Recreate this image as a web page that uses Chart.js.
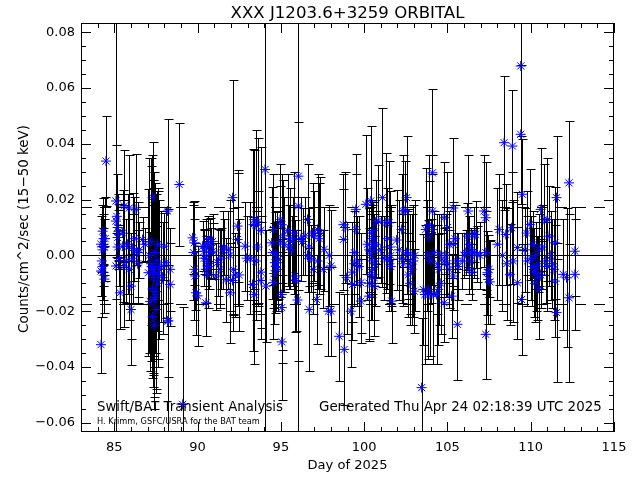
<!DOCTYPE html>
<html>
<head>
<meta charset="utf-8">
<script src="https://cdn.jsdelivr.net/npm/chart.js@4/dist/chart.umd.min.js"></script>
<style>
html,body{margin:0;padding:0;background:#fff}
canvas{display:block}
</style>
</head>
<body>
<canvas id="lc" width="640" height="480"></canvas>
<script>
// ==== Swift/BAT orbital light curve, XXX J1203.6+3259 ====

const FONT = '"DejaVu Sans", sans-serif';

// day of 2025 (one line per cluster of orbits)
const days = [
  84.5, 84.2, 84.3, 84.2, 84.3, 84.35, 84.2, 84.3, 84.3, 84.4, 84.45, 84.25, 84.4,
  85.1, 85.1, 85.2, 85.25, 85.2, 85.2, 85.1, 85.35, 85.15, 85.3,
  85.6, 85.9, 86.3, 85.5, 85.8, 86.1, 85.6, 85.7, 85.9, 86.0, 86.0, 86.4, 86.1, 86.2, 85.5,
  86.7, 86.5, 86.4, 86.85,
  87.3, 87.1, 87.05, 87.2, 87.25, 87.4, 87.3, 87.35, 87.3, 87.4, 87.5, 87.15, 87.65, 87.55, 87.8, 87.6, 87.9, 87.5, 87.45, 87.2, 87.45, 87.3, 87.6, 87.4, 87.7,
  88.0, 88.2, 88.25, 88.35, 88.35, 88.1, 88.2,
  88.9, 89.1,
  89.7, 89.8, 89.8, 89.85, 89.9, 90.0, 89.75,
  90.3, 90.4, 90.5, 90.6, 90.65, 90.75, 90.9, 90.5, 90.6, 90.5, 90.8, 90.9, 90.5, 90.6, 90.4, 90.7,
  91.2, 91.4, 91.5, 91.35, 91.6, 91.1, 91.7,
  92.1, 92.4, 92.4, 91.95, 92.15, 92.25, 92.5, 91.95, 92.1, 91.85,
  92.85, 92.95, 93.15, 93.4, 93.5, 93.6, 93.35, 93.6, 93.8, 93.5, 93.3, 93.4, 93.8, 93.8,
  94.05,
  94.1, 94.55, 94.45, 94.5, 94.65, 94.7, 94.8, 94.6, 94.85, 94.75, 94.55, 94.95, 95.05, 95.15, 94.95, 95.2, 95.05, 95.05, 95.05,
  95.4, 95.55, 95.7, 95.8, 95.5, 95.85, 95.9, 96.0, 96.05, 96.05, 95.65,
  96.2, 96.3, 96.45, 96.6, 96.7, 96.8, 96.6, 96.9, 97.0, 97.2, 97.3, 97.35, 97.2, 96.7, 97.15, 96.95,
  97.6, 97.55, 97.9, 98.0, 97.85, 98.0,
  98.5, 98.8, 98.75, 98.85, 98.75, 98.95, 99.3, 99.3, 99.2, 99.4,
  99.5, 99.5, 99.4, 99.6, 99.7, 99.8, 99.8, 100.1, 100.4, 100.2, 100.3, 100.4, 100.5, 100.6, 100.7, 100.5, 100.65, 100.5, 100.4, 100.6, 100.3, 100.6, 100.3, 100.5, 100.45, 100.55, 100.7,
  100.85, 101.1, 101.3, 101.5, 101.4, 101.55, 101.6, 101.5, 101.6, 101.65, 101.0, 101.2,
  101.95, 102.1, 102.25, 102.35, 102.45, 102.55, 102.25, 102.35, 102.55, 102.65, 102.75, 102.85, 102.65, 102.75, 103.0, 103.05, 102.95,
  103.45, 103.55, 103.65, 103.85, 103.95, 104.15, 104.35, 104.45, 103.7, 103.9, 104.1, 103.9, 104.1, 104.1, 103.8, 104.0, 104.2, 104.4, 104.5, 104.6, 104.6,
  104.8, 105.0, 105.1, 104.9, 104.8, 105.0, 105.1, 104.8, 105.25, 105.35, 105.35, 105.45, 105.35, 105.55, 105.65, 105.6,
  105.9, 106.0, 106.1, 106.25, 106.2, 106.3, 106.4, 106.5, 106.6, 106.7, 106.6, 106.4, 106.3, 106.5, 106.8, 106.95,
  107.2, 107.3, 107.3, 107.4, 107.45, 107.55, 107.3, 107.5, 108.0, 108.1,
  108.4, 108.3, 108.5, 108.55, 108.75, 108.9, 108.85, 108.95, 109.2, 109.2, 109.4, 109.4, 109.5, 109.45, 109.65, 109.75, 109.8,
  109.95, 110.0, 110.1, 110.2, 110.3, 110.4, 110.3, 110.5, 110.15, 110.6, 110.7, 110.8, 110.9, 111.0, 111.0, 111.1, 111.2, 111.3, 111.4, 111.45, 111.45, 111.55, 111.55, 110.45, 110.6, 110.25, 110.5,
  111.95, 112.15, 112.3, 112.3, 112.65, 112.65
];

// rate, counts/cm^2/sec (15-50 keV)
const rates = [
  0.0338, -0.032, 0.0087, 0.004, 0.002, 0.006, -0.0056, -0.006, -0.004, -0.0085, 0.006, -0.002, 0.003,
  0.0123, 0.0195, 0.010, 0.0085, 0.0064, 0.003, -0.0038, -0.0134, 0.014, -0.001,
  0.0177, 0.017, 0.0165, 0.0033, 0.004, 0.0025, -0.0038, -0.002, -0.005, -0.011, -0.0194, 0.001, -0.001, 0.006, 0.008,
  0.0057, 0.002, -0.003, 0.004,
  0.0208, 0.000, -0.0062, -0.003, -0.004, -0.005, -0.006, -0.008, -0.012, -0.0158, -0.0194, -0.0165, -0.007, -0.002, -0.004, -0.010, -0.008, -0.013, -0.015, 0.005, 0.001, -0.022, 0.004, -0.025, -0.005,
  0.0033, 0.0159, -0.0235, -0.005, -0.0104, -0.0025, -0.0235,
  0.0254, -0.0534,
  0.0063, 0.0045, -0.005, -0.0074, -0.0134, -0.0145, 0.001,
  0.0033, -0.001, 0.003, 0.004, 0.006, 0.0035, 0.005, -0.005, -0.003, -0.001, 0.001, 0.0015, -0.017, -0.007, 0.0015, -0.004,
  -0.0025, -0.001, 0.002, -0.005, 0.003, -0.0074, -0.0087,
  0.0207, 0.0105, 0.0057, 0.000, -0.005, -0.007, -0.007, -0.0134, -0.009, 0.002,
  0.0033, -0.001, -0.001, 0.0129, 0.011, 0.012, 0.011, 0.003, 0.009, -0.002, -0.0104, -0.014, -0.006, -0.009,
  0.0308,
  -0.011, 0.0093, 0.0045, 0.001, -0.0026, -0.004, -0.005, -0.0065, -0.0015, 0.000, -0.0098, 0.0129, 0.011, 0.007, 0.005, 0.004, -0.014, -0.0187, -0.031,
  0.009, 0.006, 0.005, 0.008, 0.003, -0.0074, -0.009, -0.016, 0.0284, 0.0177, 0.002,
  0.006, 0.005, 0.007, 0.0129, 0.003, -0.001, 0.000, 0.008, 0.007, 0.0093, 0.006, 0.008, -0.002, -0.0194, -0.0158, -0.005,
  0.0022, -0.005, 0.000, -0.0038, -0.020, -0.020,
  -0.029, -0.0337, 0.011, 0.010, 0.0057, -0.008, -0.006, -0.0104, -0.020, -0.003,
  0.0165, 0.0093, 0.001, -0.002, -0.004, -0.0098, -0.0164, 0.0183, 0.0195, 0.004, 0.002, 0.000, 0.004, 0.002, 0.004, -0.002, -0.003, -0.005, -0.007, -0.008, -0.010, -0.011, -0.0146, 0.006, 0.008, 0.009, 0.012,
  0.0123, 0.0207, 0.0117, 0.0117, 0.006, 0.003, 0.000, -0.002, -0.004, -0.0164, 0.002, -0.001,
  0.0055, 0.002, 0.0093, 0.0159, 0.016, 0.0207, -0.001, -0.003, 0.001, 0.0005, -0.003, -0.005, -0.007, -0.010, -0.0128, 0.000, -0.002,
  -0.0474, -0.0122, -0.014, -0.0122, -0.014, -0.014, -0.014, -0.0122, 0.0093, 0.011, 0.0093, 0.0065, 0.0159, 0.0296, 0.000, -0.002, 0.001, -0.003, -0.005, 0.000, -0.010,
  0.0135, 0.010, 0.004, 0.000, -0.002, -0.003, -0.005, -0.017, -0.0146, 0.017, 0.004, 0.006, -0.0074, -0.002, -0.004, -0.0247,
  -0.002, 0.000, 0.001, 0.0159, 0.0069, 0.004, 0.002, 0.001, 0.0075, 0.0075, 0.001, -0.002, -0.005, -0.006, 0.0005, 0.000,
  0.0159, 0.0135, 0.001, -0.0062, -0.0086, -0.0095, -0.0283, -0.005, 0.004, 0.0093,
  0.0404, 0.000, 0.0075, -0.003, -0.0068, 0.0392, 0.0099, -0.002, 0.0028, -0.0098, 0.0679, 0.0434, 0.0219, -0.0158, 0.002, 0.008, -0.002,
  0.0111, -0.001, -0.004, -0.006, -0.005, -0.008, 0.000, 0.002, 0.004, 0.0165, 0.003, 0.0129, -0.002, -0.004, 0.0129, 0.0069, 0.000, -0.003, -0.005, 0.0045, -0.0092, 0.0207, -0.0205, -0.003, -0.007, -0.010, -0.012,
  -0.0068, -0.008, 0.026, -0.0152, 0.0015, -0.0068
];

// 1-sigma errors
const errs = [
  0.016, 0.010, 0.012, 0.010, 0.008, 0.009, 0.009, 0.010, 0.007, 0.012, 0.015, 0.020, 0.010,
  0.15, 0.02, 0.012, 0.01, 0.01, 0.008, 0.012, 0.013, 0.015, 0.010,
  0.02, 0.019, 0.02, 0.02, 0.018, 0.02, 0.022, 0.015, 0.018, 0.019, 0.02, 0.018, 0.016, 0.015, 0.012,
  0.008, 0.01, 0.012, 0.006,
  0.02, 0.035, 0.03, 0.035, 0.04, 0.035, 0.03, 0.035, 0.03, 0.035, 0.03, 0.025, 0.03, 0.025, 0.02, 0.03, 0.02, 0.035, 0.02, 0.03, 0.025, 0.025, 0.02, 0.03, 0.025,
  0.012, 0.033, 0.02, 0.015, 0.015, 0.02, 0.04,
  0.022, 0.035,
  0.013, 0.015, 0.018, 0.012, 0.015, 0.018, 0.017,
  0.009, 0.01, 0.01, 0.009, 0.008, 0.01, 0.01, 0.012, 0.009, 0.01, 0.009, 0.01, 0.012, 0.012, 0.008, 0.008,
  0.012, 0.011, 0.014, 0.014, 0.01, 0.012, 0.015,
  0.042, 0.02, 0.024, 0.02, 0.022, 0.015, 0.02, 0.018, 0.012, 0.014,
  0.016, 0.015, 0.02, 0.025, 0.034, 0.03, 0.027, 0.02, 0.03, 0.018, 0.024, 0.025, 0.02, 0.021,
  0.12,
  0.02, 0.02, 0.02, 0.02, 0.018, 0.016, 0.015, 0.018, 0.014, 0.016, 0.02, 0.02, 0.018, 0.02, 0.02, 0.017, 0.02, 0.02, 0.021,
  0.02, 0.018, 0.016, 0.022, 0.015, 0.02, 0.018, 0.022, 0.15, 0.03, 0.012,
  0.015, 0.012, 0.014, 0.02, 0.014, 0.012, 0.013, 0.018, 0.016, 0.02, 0.02, 0.02, 0.01, 0.022, 0.016, 0.016,
  0.015, 0.014, 0.018, 0.02, 0.016, 0.016,
  0.016, 0.02, 0.018, 0.02, 0.018, 0.02, 0.018, 0.02, 0.02, 0.015,
  0.02, 0.02, 0.015, 0.016, 0.018, 0.018, 0.015, 0.025, 0.027, 0.02, 0.015, 0.015, 0.014, 0.013, 0.012, 0.012, 0.015, 0.018, 0.016, 0.015, 0.02, 0.018, 0.016, 0.01, 0.012, 0.01, 0.015,
  0.02, 0.032, 0.025, 0.022, 0.018, 0.02, 0.018, 0.018, 0.016, 0.015, 0.012, 0.015,
  0.018, 0.018, 0.02, 0.02, 0.018, 0.022, 0.016, 0.015, 0.015, 0.016, 0.018, 0.02, 0.015, 0.015, 0.015, 0.02, 0.02,
  0.025, 0.02, 0.025, 0.025, 0.022, 0.025, 0.025, 0.02, 0.022, 0.025, 0.02, 0.02, 0.02, 0.03, 0.02, 0.015, 0.015, 0.018, 0.02, 0.015, 0.018,
  0.02, 0.02, 0.012, 0.015, 0.012, 0.012, 0.014, 0.014, 0.015, 0.025, 0.015, 0.012, 0.012, 0.01, 0.012, 0.02,
  0.01, 0.008, 0.008, 0.02, 0.012, 0.01, 0.008, 0.008, 0.01, 0.012, 0.009, 0.01, 0.009, 0.01, 0.01, 0.012,
  0.02, 0.02, 0.015, 0.015, 0.016, 0.015, 0.016, 0.01, 0.02, 0.02,
  0.024, 0.02, 0.018, 0.02, 0.018, 0.02, 0.02, 0.022, 0.02, 0.02, 0.025, 0.025, 0.02, 0.02, 0.015, 0.015, 0.016,
  0.02, 0.015, 0.014, 0.016, 0.015, 0.015, 0.012, 0.013, 0.012, 0.022, 0.015, 0.02, 0.015, 0.016, 0.022, 0.018, 0.016, 0.016, 0.018, 0.02, 0.02, 0.022, 0.025, 0.01, 0.012, 0.014, 0.018,
  0.02, 0.025, 0.022, 0.03, 0.016, 0.02
];

// axes
const xMin = 83, xMax = 115, xStep = 5, xMinor = 1;
const yMin = -0.0633, yMax = 0.0833, yStep = 0.02, yMinor = 0.005;
const threshold = 0.0175;   // dashed lines at +/- this

const pts = days.map((d,i)=>({x:d, y:rates[i]}));

function fitText(ctx, txt, x, y, w, align){
  ctx.font = '14px ' + FONT;
  const m = ctx.measureText(txt).width;
  ctx.font = (14*w/m).toFixed(2) + 'px ' + FONT;
  ctx.textAlign = align;
  ctx.fillText(txt, x, y);
}

// error bars, zero/threshold lines, inward ticks and labels
const idlPlugin = {
  id:'idl',
  beforeDatasetsDraw(chart){
    const {ctx, chartArea:a, scales:{x, y}} = chart;
    ctx.save();
    ctx.beginPath(); ctx.rect(a.left, a.top, a.right-a.left, a.bottom-a.top); ctx.clip();
    ctx.strokeStyle = '#000'; ctx.lineWidth = 1;
    // zero line
    const y0 = Math.round(y.getPixelForValue(0)) + 0.5;
    ctx.beginPath(); ctx.moveTo(a.left, y0); ctx.lineTo(a.right, y0); ctx.stroke();
    // threshold lines
    ctx.setLineDash([11, 8]);
    [threshold, -threshold].forEach(v=>{
      const yy = Math.round(y.getPixelForValue(v)) + 0.5;
      ctx.beginPath(); ctx.moveTo(a.left, yy); ctx.lineTo(a.right, yy); ctx.stroke();
    });
    ctx.setLineDash([]);
    // error bars
    ctx.beginPath();
    days.forEach((d,i)=>{
      const px = Math.round(x.getPixelForValue(d)) + 0.5;
      const top = Math.round(y.getPixelForValue(rates[i]+errs[i])) + 0.5;
      const bot = Math.round(y.getPixelForValue(rates[i]-errs[i])) + 0.5;
      ctx.moveTo(px, top); ctx.lineTo(px, bot);
      ctx.moveTo(px-4, top); ctx.lineTo(px+5, top);
      ctx.moveTo(px-4, bot); ctx.lineTo(px+5, bot);
    });
    ctx.stroke();
    ctx.restore();
  },
  afterDraw(chart){
    const {ctx, chartArea:a, scales:{x, y}} = chart;
    ctx.save();
    ctx.strokeStyle = '#000'; ctx.lineWidth = 1;
    ctx.strokeRect(a.left+0.5, a.top+0.5, a.right-a.left-1, a.bottom-a.top-1);
    ctx.beginPath();
    for(let v = Math.ceil(xMin/xMinor)*xMinor; v <= xMax; v += xMinor){
      const len = (v % xStep === 0) ? 10 : 5;
      const px = Math.round(x.getPixelForValue(v)) + 0.5;
      ctx.moveTo(px, a.bottom); ctx.lineTo(px, a.bottom-len);
      ctx.moveTo(px, a.top); ctx.lineTo(px, a.top+len);
    }
    for(let k = Math.ceil(yMin/yMinor); k*yMinor <= yMax; k++){
      const v = k*yMinor;
      const len = (k % 4 === 0) ? 10 : 5;
      const py = Math.round(y.getPixelForValue(v)) + 0.5;
      ctx.moveTo(a.left, py); ctx.lineTo(a.left+len, py);
      ctx.moveTo(a.right, py); ctx.lineTo(a.right-len, py);
    }
    ctx.stroke();

    ctx.fillStyle = '#000';
    ctx.textBaseline = 'alphabetic';
    fitText(ctx, 'XXX J1203.6+3259 ORBITAL', (a.left+a.right)/2, 18, 234, 'center');
    fitText(ctx, 'Swift/BAT Transient Analysis', 97, 411, 186, 'left');
    fitText(ctx, 'Generated Thu Apr 24 02:18:39 UTC 2025', 319, 411, 283, 'left');
    fitText(ctx, 'H. Krimm, GSFC/USRA for the BAT team', 97, 424, 163, 'left');
    fitText(ctx, 'Day of 2025', (a.left+a.right)/2, 469, 80, 'center');
    ctx.translate(28, 229); ctx.rotate(-Math.PI/2);
    fitText(ctx, 'Counts/cm^2/sec (15\u221250 keV)', 0, 0, 208, 'center');
    ctx.restore();
  }
};

new Chart(document.getElementById('lc'), {
  type:'scatter',
  data:{datasets:[{
    data:pts,
    pointStyle:'star', pointRadius:5, pointHoverRadius:5,
    borderColor:'#0000ff', backgroundColor:'#0000ff', borderWidth:1
  }]},
  options:{
    responsive:false, animation:false, devicePixelRatio:1,
    layout:{padding:{top:23, right:26, left:0, bottom:0}},
    plugins:{legend:{display:false}, tooltip:{enabled:false}, title:{display:false}},
    scales:{
      x:{
        type:'linear', min:xMin, max:xMax,
        grid:{display:false, drawTicks:false}, border:{display:false},
        ticks:{stepSize:xStep, includeBounds:false, color:'#000', font:{family:FONT, size:13}, padding:8, maxRotation:0, autoSkip:false},
        afterFit(s){ s.height = 48; }
      },
      y:{
        type:'linear', min:yMin, max:yMax,
        grid:{display:false, drawTicks:false}, border:{display:false},
        ticks:{stepSize:yStep, includeBounds:false, color:'#000', font:{family:FONT, size:13}, padding:6,
          callback:v=>(Math.abs(v)<1e-9 ? '0.00' : v.toFixed(2)).replace('-', '\u2212')},
        afterFit(s){ s.width = 81; }
      }
    }
  },
  plugins:[idlPlugin]
});
</script>
</body>
</html>
